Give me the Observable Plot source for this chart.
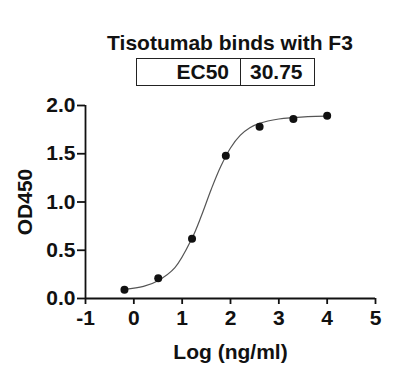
<!DOCTYPE html>
<html>
<head>
<meta charset="utf-8">
<script src="https://cdn.jsdelivr.net/npm/d3@7"></script>
<script src="https://cdn.jsdelivr.net/npm/@observablehq/plot@0.6"></script>
<style>
  body { margin: 0; background: #fff; font-family: "Liberation Sans", Arial, sans-serif; }
  #wrap { position: relative; width: 400px; height: 376px; }
  #header { position: relative; width: 400px; height: 92px; }
  #title { position: absolute; left: 0; width: 460px; top: 31px; text-align: center; font-weight: bold; font-size: 21px; line-height: 24px; color: #111; white-space: nowrap; }
  #tbl { position: absolute; left: 136px; top: 58px; width: 179px; height: 28px; box-sizing: border-box; border: 1.5px solid #222; display: flex; font-weight: bold; font-size: 21px; color: #111; }
  #tbl .c1 { width: 104px; box-sizing: border-box; border-right: 1.5px solid #222; text-align: right; padding-right: 11px; line-height: 25px; }
  #tbl .c2 { flex: 1; padding-left: 9px; line-height: 25px; }
</style>
</head>
<body>
<div id="wrap">
  <div id="header">
    <div id="title"></div>
    <div id="tbl"><div class="c1"></div><div class="c2"></div></div>
  </div>
  <div id="chart"></div>
</div>
<script>
const titleText = "Tisotumab binds with F3";
const statLabel = "EC50";
const statValue = "30.75";
const xLabel = "Log (ng/ml)";
const yLabel = "OD450";
// measured points
const logConc = [-0.194, 0.505, 1.204, 1.903, 2.602, 3.301, 4.0];
const od450 = [0.09, 0.21, 0.62, 1.48, 1.78, 1.86, 1.895];
// fitted curve
const fitX = [-0.194, 0.2, 0.5, 0.85, 1.2, 1.4, 1.6, 1.8, 2.0, 2.2, 2.4, 2.6, 3.0, 3.3, 3.6, 4.0];
const fitY = [0.095, 0.125, 0.185, 0.32, 0.62, 0.86, 1.13, 1.37, 1.56, 1.69, 1.77, 1.815, 1.86, 1.875, 1.885, 1.89];
const xTicks = [-1, 0, 1, 2, 3, 4, 5];
const yTicks = [0, 0.5, 1.0, 1.5, 2.0];

document.getElementById("title").textContent = titleText;
document.querySelector("#tbl .c1").textContent = statLabel;
document.querySelector("#tbl .c2").textContent = statValue;

const data = logConc.map((x, i) => ({x, y: od450[i]}));
const fit = fitX.map((x, i) => ({x, y: fitY[i]}));

const chart = Plot.plot({
  width: 400,
  height: 284,
  marginTop: 13,
  marginBottom: 78,
  marginLeft: 85,
  marginRight: 25,
  style: {fontFamily: "Liberation Sans, Arial, sans-serif", fontSize: "21px", fontWeight: "bold", color: "#111", background: "white"},
  x: {domain: [-1, 5]},
  y: {domain: [0, 2]},
  marks: [
    Plot.axisX({ticks: xTicks, tickSize: 6, tickPadding: 6, strokeWidth: 1.8, label: xLabel, labelAnchor: "center", labelArrow: "none", labelOffset: 60, tickFormat: d => String(d)}),
    Plot.axisY({ticks: yTicks, tickSize: 8, tickPadding: 2, strokeWidth: 1.8, tickFormat: d3.format(".1f"), label: yLabel, labelAnchor: "center", labelArrow: "none", labelOffset: 68}),
    Plot.ruleX([-1], {stroke: "#111", strokeWidth: 1.8}),
    Plot.ruleY([0], {stroke: "#111", strokeWidth: 1.8}),
    Plot.line(fit, {x: "x", y: "y", curve: "catmull-rom", stroke: "#555", strokeWidth: 1.2}),
    Plot.dot(data, {x: "x", y: "y", r: 4, fill: "#111", stroke: "none"})
  ]
});
document.getElementById("chart").appendChild(chart);
</script>
</body>
</html>
